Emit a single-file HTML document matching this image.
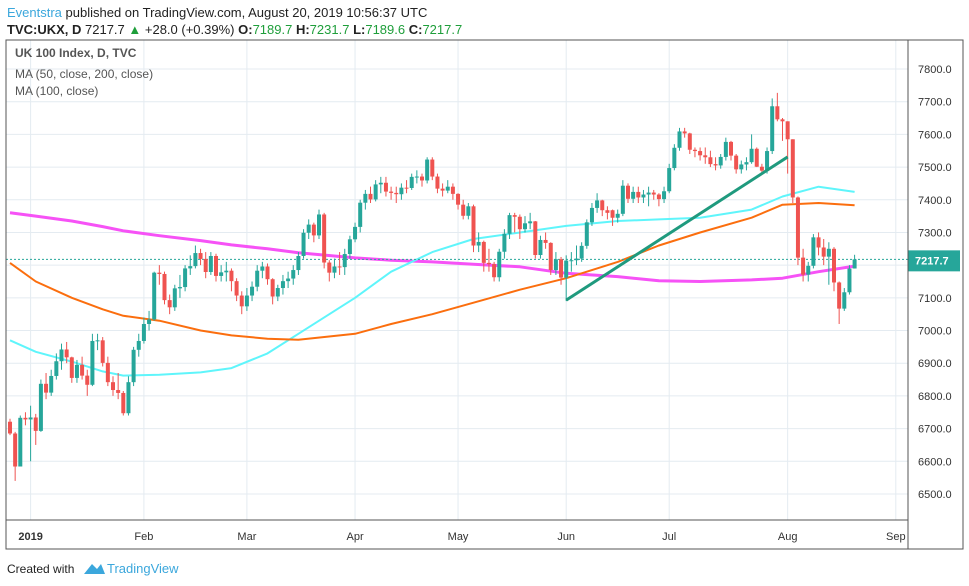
<!DOCTYPE html>
<html><head><meta charset="utf-8">
<style>
body{margin:0;background:#fff;font-family:"Liberation Sans",sans-serif;}
#wrap{position:relative;width:969px;height:586px;overflow:hidden;}
svg text{font-family:"Liberation Sans",sans-serif;}
</style></head>
<body>
<div id="wrap">
<svg id="chart" width="969" height="586">
<text x="7" y="17" font-size="13"><tspan fill="#3ba7dc">Eventstra</tspan><tspan fill="#222"> published on TradingView.com, August 20, 2019 10:56:37 UTC</tspan></text>
<text x="7" y="34" font-size="13" fill="#222"><tspan font-weight="bold">TVC:UKX, D</tspan> 7217.7 <tspan fill="#1e9e3a">▲</tspan> +28.0 (+0.39%) <tspan font-weight="bold">O:</tspan><tspan fill="#1e9e3a">7189.7</tspan> <tspan font-weight="bold">H:</tspan><tspan fill="#1e9e3a">7231.7</tspan> <tspan font-weight="bold">L:</tspan><tspan fill="#1e9e3a">7189.6</tspan> <tspan font-weight="bold">C:</tspan><tspan fill="#1e9e3a">7217.7</tspan></text>
<g id="grid"></g>
<g id="mas"></g>
<g id="candles"></g>
<g id="axes"></g>
<rect x="6" y="40" width="957" height="509" fill="none" stroke="#555" stroke-width="1"/>
<line x1="908" y1="40" x2="908" y2="549" stroke="#555"/>
<line x1="6" y1="520" x2="908" y2="520" stroke="#555"/>
<text x="15" y="57" font-size="12" fill="#555" font-weight="bold">UK 100 Index, D, TVC</text>
<text x="15" y="78" font-size="12" fill="#555">MA (50, close, 200, close)</text>
<text x="15" y="95" font-size="12" fill="#555">MA (100, close)</text>
<text x="7" y="573" font-size="12" fill="#222">Created with</text>
<g><path d="M84 574 L92 564 L97 569 L101 564 L105 574 Z" fill="#3ba7dc"/><text x="107" y="573" font-size="13" fill="#3ba7dc">TradingView</text></g>
</svg>
</div>
<script>
const opens=[6721,6685,6584,6733,6728,6734,6693,6837,6810,6861,6906,6942,6918,6855,6895,6862,6834,6968,6970,6901,6842,6818,6809,6747,6842,6941,6968,7020,7034,7177,7173,7093,7071,7129,7133,7190,7197,7237,7219,7179,7228,7167,7178,7183,7151,7107,7074,7107,7134,7183,7196,7157,7104,7130,7151,7159,7185,7228,7299,7324,7291,7355,7208,7177,7196,7194,7234,7279,7317,7391,7418,7401,7447,7452,7425,7421,7417,7437,7436,7470,7471,7459,7523,7471,7434,7428,7440,7418,7385,7351,7380,7260,7271,7207,7203,7163,7241,7296,7353,7348,7310,7328,7334,7231,7277,7268,7185,7218,7162,7214,7215,7220,7259,7331,7375,7398,7368,7368,7345,7357,7443,7403,7424,7407,7416,7422,7416,7402,7426,7497,7559,7609,7603,7553,7549,7536,7530,7509,7505,7531,7577,7535,7493,7508,7515,7556,7501,7489,7549,7686,7646,7640,7585,7407,7223,7171,7198,7285,7254,7226,7250,7147,7067,7117,7189.7];
const highs=[6730,6690,6740,6750,6770,6745,6850,6870,6880,6930,6960,6965,6920,6910,6920,6880,6990,6990,6980,6920,6860,6870,6815,6860,6950,6990,7040,7060,7180,7200,7180,7110,7140,7170,7200,7230,7260,7250,7240,7240,7235,7200,7210,7190,7160,7120,7130,7150,7200,7210,7205,7160,7140,7170,7180,7200,7240,7310,7340,7330,7370,7360,7215,7220,7240,7250,7290,7330,7400,7430,7440,7460,7470,7470,7440,7440,7450,7460,7480,7490,7480,7530,7530,7480,7450,7460,7450,7420,7400,7390,7385,7300,7275,7250,7210,7250,7310,7360,7360,7355,7350,7360,7335,7290,7300,7270,7240,7225,7230,7240,7260,7270,7340,7390,7420,7400,7380,7370,7370,7460,7450,7440,7440,7430,7440,7430,7420,7440,7510,7570,7620,7620,7605,7560,7560,7560,7550,7530,7540,7590,7580,7540,7520,7530,7600,7560,7510,7560,7710,7727,7650,7640,7585,7410,7250,7210,7295,7300,7280,7270,7255,7150,7130,7200,7231.7];
const lows=[6680,6540,6584,6710,6600,6650,6690,6790,6800,6850,6880,6900,6840,6840,6850,6800,6830,6940,6890,6830,6800,6790,6740,6740,6830,6920,6960,7000,7030,7140,7080,7050,7060,7100,7120,7170,7190,7200,7160,7170,7150,7150,7150,7120,7090,7050,7060,7090,7120,7160,7140,7080,7090,7110,7130,7140,7170,7220,7280,7270,7280,7190,7150,7160,7170,7170,7220,7270,7300,7370,7390,7395,7420,7410,7400,7390,7400,7420,7430,7450,7440,7450,7460,7420,7410,7420,7400,7370,7340,7340,7240,7240,7180,7180,7150,7150,7220,7280,7300,7280,7300,7310,7220,7220,7250,7170,7170,7140,7090,7180,7200,7210,7250,7320,7360,7350,7340,7320,7330,7350,7390,7390,7390,7390,7380,7400,7380,7390,7420,7490,7550,7590,7540,7530,7520,7510,7500,7490,7495,7520,7520,7480,7480,7490,7510,7500,7480,7480,7540,7640,7580,7480,7390,7200,7150,7150,7190,7230,7200,7140,7120,7020,7060,7110,7189.6];
const closes=[6685,6584,6733,6728,6734,6693,6837,6810,6861,6906,6942,6918,6855,6895,6862,6834,6968,6970,6901,6842,6818,6809,6747,6842,6941,6968,7020,7034,7177,7173,7093,7071,7129,7133,7190,7197,7237,7219,7179,7228,7167,7178,7183,7151,7107,7074,7107,7134,7183,7196,7157,7104,7130,7151,7159,7185,7228,7299,7324,7291,7355,7208,7177,7196,7194,7234,7279,7317,7391,7418,7401,7447,7452,7425,7421,7417,7437,7436,7470,7471,7459,7523,7471,7434,7428,7440,7418,7385,7351,7380,7260,7271,7207,7203,7163,7241,7296,7353,7348,7310,7328,7334,7231,7277,7268,7185,7218,7162,7214,7215,7220,7259,7331,7375,7398,7368,7360,7345,7357,7443,7403,7424,7407,7416,7422,7416,7402,7426,7497,7559,7609,7603,7553,7549,7536,7530,7509,7505,7531,7577,7535,7493,7508,7515,7556,7501,7489,7549,7686,7646,7640,7585,7407,7223,7171,7198,7285,7254,7226,7250,7147,7067,7117,7189.7,7217.7];
// moving averages sampled at bar indices
const maIdx=[0,5,12,18,22,29,37,43,50,56,67,74,82,90,99,108,118,126,134,144,150,157,164];
const ma200=[7360,7350,7335,7318,7305,7290,7275,7262,7250,7238,7222,7215,7210,7203,7195,7175,7165,7152,7150,7155,7160,7180,7197];
const ma50=[6970,6935,6905,6875,6862,6865,6872,6885,6930,6990,7100,7180,7240,7280,7300,7320,7335,7340,7345,7370,7410,7440,7424];
const ma100=[7207,7150,7100,7065,7045,7030,7000,6985,6975,6972,6990,7020,7050,7085,7125,7160,7210,7260,7300,7345,7385,7390,7383];
const trendIdx=[108,151];
const trendVal=[7093,7531];
const priceTicks=[6500,6600,6700,6800,6900,7000,7100,7200,7300,7400,7500,7600,7700,7800];
const monthLabels=["2019","Feb","Mar","Apr","May","Jun","Jul","Aug","Sep"];
const monthIdx=[4,26,46,67,87,108,128,151,172];
const lastPrice=7217.7;

const NS="http://www.w3.org/2000/svg";
function X(i){return 10+i*5.15;}
function Y(p){return 69+(7800-p)*0.3269;}
function mk(tag,attrs,parent){const e=document.createElementNS(NS,tag);for(const k in attrs)e.setAttribute(k,attrs[k]);parent.appendChild(e);return e;}
const grid=document.getElementById('grid'),axes=document.getElementById('axes'),cg=document.getElementById('candles'),mg=document.getElementById('mas');
priceTicks.forEach(p=>{
  const l=mk('line',{x1:6,x2:908,y1:Y(p),y2:Y(p),stroke:'#e4ebf1','stroke-width':1},grid);
  
  
  const t=mk('text',{x:918,y:Y(p)+4,'font-size':11,fill:'#333'},axes);
  t.textContent=p.toFixed(1);
  
  
});
monthIdx.forEach((m,k)=>{
  const l=mk('line',{x1:X(m),x2:X(m),y1:40,y2:520,stroke:'#e4ebf1','stroke-width':1},grid);
  
  
  const t=mk('text',{x:X(m),y:540,'font-size':11,fill:'#333','text-anchor':'middle','font-weight':k==0?'bold':'normal'},axes);
  t.textContent=monthLabels[k];
  
  
});
function line(idx,vals,color,w,name){
  const d=idx.map((i,k)=>(k?'L':'M')+X(i).toFixed(1)+' '+Y(vals[k]).toFixed(1)).join(' ');
  const p=mk('path',{d:d,fill:'none',stroke:color,'stroke-width':w,'stroke-linejoin':'round'},mg);
  
  
}
line(maIdx,ma200,'#f652f6',3,'ma-200-line');
line(maIdx,ma50,'#5ff5fb',2,'ma-50-line');
line(maIdx,ma100,'#fb6e0e',2,'ma-100-line');
const dl=mk('line',{x1:6,x2:908,y1:Y(lastPrice),y2:Y(lastPrice),stroke:'#26a69a','stroke-dasharray':'2,2','stroke-width':1},mg);


closes.forEach((c,i)=>{
  const o=opens[i],up=c>=o,col=up?'#26a69a':'#ef5350',x=X(i);
  const w=mk('line',{x1:x,x2:x,y1:Y(highs[i]),y2:Y(lows[i]),stroke:col,'stroke-width':1},cg);
  
  
  const top=Y(Math.max(o,c)),h=Math.max(1,Y(Math.min(o,c))-top);
  const b=mk('rect',{x:x-2,y:top,width:4,height:h,fill:col},cg);
  
  
});
const tl=mk('line',{x1:X(trendIdx[0]),y1:Y(trendVal[0]),x2:X(trendIdx[1]),y2:Y(trendVal[1]),stroke:'#1f9a7e','stroke-width':3},cg);


const lb=mk('rect',{x:908,y:Y(lastPrice)-9,width:52,height:21,fill:'#26a69a'},axes);


const lt=mk('text',{x:915,y:Y(lastPrice)+5,'font-size':11,fill:'#fff','font-weight':'bold'},axes);
lt.textContent=lastPrice.toFixed(1);


</script>
</body></html>
